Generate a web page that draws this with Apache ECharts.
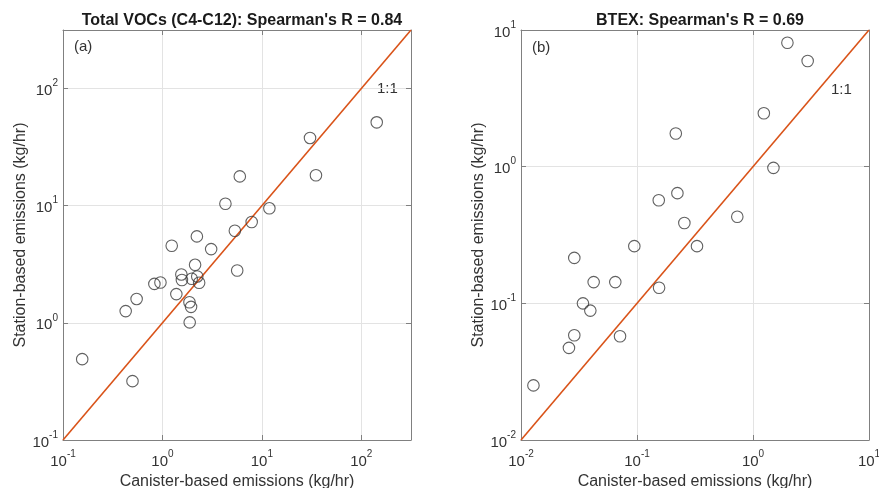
<!DOCTYPE html>
<html>
<head>
<meta charset="utf-8">
<script src="https://cdn.jsdelivr.net/npm/echarts@6/dist/echarts.min.js"></script>
<style>
  html, body { margin: 0; padding: 0; background: #fff; }
  #chart { width: 879px; height: 488px; }
</style>
</head>
<body>
<div id="chart"></div>
<script>
// panel (a): total VOCs, canister vs station (kg/hr)
const vocCanister = [143, 30.5, 35, 6.0, 4.3, 11.9, 7.9, 5.35, 2.22, 1.24, 3.09, 2.13, 5.65, 1.55,
  2.24, 1.57, 1.97, 2.34, 0.955, 0.83, 1.38, 0.55, 1.87, 1.94, 0.427, 1.88, 0.156, 0.50]
const vocStation = [51.5, 37.9, 18.2, 17.8, 10.4, 9.5, 7.26, 6.11, 5.47, 4.55, 4.26, 3.13, 2.8, 2.59,
  2.49, 2.32, 2.38, 2.2, 2.21, 2.15, 1.76, 1.6, 1.5, 1.37, 1.26, 1.01, 0.49, 0.318]

// panel (b): BTEX
const btexCanister = [1.98, 2.96, 1.24, 0.216, 1.5, 0.223, 0.154, 0.256, 0.732, 0.0948, 0.329,
  0.0288, 0.0423, 0.065, 0.155, 0.0342, 0.0396, 0.0288, 0.0714, 0.0259, 0.0128]
const btexStation = [8.07, 5.93, 2.46, 1.75, 0.98, 0.64, 0.568, 0.387, 0.43, 0.262, 0.262,
  0.215, 0.143, 0.143, 0.13, 0.1, 0.0885, 0.0584, 0.0574, 0.0472, 0.0251]

// axis ranges
const rangeA = [0.1, 316.2]
const rangeB = [0.01, 10]

const titles = ["Total VOCs (C4-C12): Spearman's R = 0.84", "BTEX: Spearman's R = 0.69"]
const panelTags = ['(a)', '(b)']
const xName = 'Canister-based emissions (kg/hr)'
const yName = 'Station-based emissions (kg/hr)'

const textColor = '#333'
const boxColor = '#808080'
const lineColor = '#D95319'
const font = 'Liberation Sans'

function zip(a, b) {
  return a.map((v, i) => [v, b[i]])
}

function powLabel(v) {
  const e = Math.log10(v)
  if (Math.abs(e - Math.round(e)) > 1e-6) return ''
  return '{b|10}{s|' + Math.round(e) + '}'
}

const richLabel = {
  b: { fontSize: 15, color: textColor, fontFamily: font, lineHeight: 20, verticalAlign: 'bottom' },
  s: { fontSize: 10, color: textColor, fontFamily: font, lineHeight: 20, verticalAlign: 'top' }
}

function mainAxis(dim, grid, range, pos) {
  return {
    type: 'log',
    logBase: 10,
    gridIndex: grid,
    min: range[0],
    max: range[1],
    position: pos,
    axisLine: { show: true, onZero: false, lineStyle: { color: boxColor, width: 1 } },
    axisTick: { show: true, inside: true, length: 5, lineStyle: { color: boxColor } },
    minorTick: { show: false },
    splitLine: { show: true, lineStyle: { color: '#e3e3e3', width: 1 } },
    axisLabel: {
      show: true,
      margin: dim === 'x' ? 9 : 5,
      formatter: powLabel,
      rich: richLabel,
      showMinLabel: true,
      showMaxLabel: true
    },
    name: dim === 'x' ? xName : yName,
    nameLocation: 'middle',
    nameGap: dim === 'x' ? 33 : 33,
    nameTextStyle: { fontSize: 16, color: textColor, fontFamily: font }
  }
}

function boxAxis(grid, range, pos) {
  return {
    type: 'log',
    logBase: 10,
    gridIndex: grid,
    min: range[0],
    max: range[1],
    position: pos,
    axisLine: { show: true, onZero: false, lineStyle: { color: boxColor, width: 1 } },
    axisTick: { show: true, inside: true, length: 5, lineStyle: { color: boxColor } },
    splitLine: { show: false },
    axisLabel: { show: false }
  }
}

const chart = echarts.init(document.getElementById('chart'), null, { renderer: 'canvas' })

chart.setOption({
  animation: false,
  backgroundColor: '#fff',
  textStyle: { fontFamily: font },
  grid: [
    { left: 63, top: 30, width: 348, height: 410, containLabel: false, outerBoundsMode: 'none' },
    { left: 521, top: 30, width: 348, height: 410, containLabel: false, outerBoundsMode: 'none' }
  ],
  title: [
    { text: titles[0], left: 237, top: 8, textAlign: 'center',
      textStyle: { fontSize: 16, fontWeight: 'bold', color: '#1a1a1a', fontFamily: font } },
    { text: titles[1], left: 695, top: 8, textAlign: 'center',
      textStyle: { fontSize: 16, fontWeight: 'bold', color: '#1a1a1a', fontFamily: font } }
  ],
  xAxis: [
    mainAxis('x', 0, rangeA, 'bottom'),
    mainAxis('x', 1, rangeB, 'bottom'),
    boxAxis(0, rangeA, 'top'),
    boxAxis(1, rangeB, 'top')
  ],
  yAxis: [
    mainAxis('y', 0, rangeA, 'left'),
    mainAxis('y', 1, rangeB, 'left'),
    boxAxis(0, rangeA, 'right'),
    boxAxis(1, rangeB, 'right')
  ],
  graphic: [
    { type: 'text', left: 74, top: 39, style: { text: panelTags[0], fontSize: 15, fill: textColor, fontFamily: font } },
    { type: 'text', left: 532, top: 40, style: { text: panelTags[1], fontSize: 15, fill: textColor, fontFamily: font } },
    { type: 'text', left: 377, top: 81, style: { text: '1:1', fontSize: 15, fill: textColor, fontFamily: font } },
    { type: 'text', left: 831, top: 82, style: { text: '1:1', fontSize: 15, fill: textColor, fontFamily: font } }
  ],
  series: [
    {
      type: 'line',
      xAxisIndex: 0,
      yAxisIndex: 0,
      data: [[rangeA[0], rangeA[0]], [rangeA[1], rangeA[1]]],
      symbol: 'none',
      lineStyle: { color: lineColor, width: 1.6 },
      z: 2
    },
    {
      type: 'scatter',
      xAxisIndex: 0,
      yAxisIndex: 0,
      data: zip(vocCanister, vocStation),
      symbol: 'circle',
      symbolSize: 11.5,
      itemStyle: { color: 'rgba(0,0,0,0)', borderColor: '#3a3a3a', borderWidth: 1.1 },
      z: 3
    },
    {
      type: 'line',
      xAxisIndex: 1,
      yAxisIndex: 1,
      data: [[rangeB[0], rangeB[0]], [rangeB[1], rangeB[1]]],
      symbol: 'none',
      lineStyle: { color: lineColor, width: 1.6 },
      z: 2
    },
    {
      type: 'scatter',
      xAxisIndex: 1,
      yAxisIndex: 1,
      data: zip(btexCanister, btexStation),
      symbol: 'circle',
      symbolSize: 11.5,
      itemStyle: { color: 'rgba(0,0,0,0)', borderColor: '#3a3a3a', borderWidth: 1.1 },
      z: 3
    }
  ]
})
</script>
</body>
</html>
